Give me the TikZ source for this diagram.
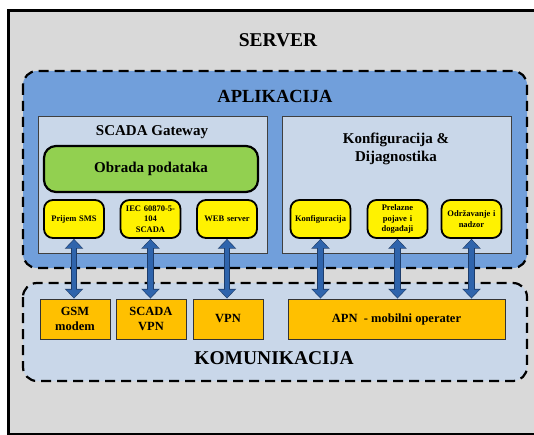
\documentclass[tikz,border=0pt]{standalone}
\usepackage{fontspec}
\setmainfont{Liberation Serif}
\usetikzlibrary{arrows.meta,positioning}

\definecolor{servergrey}{HTML}{D9D9D9}
\definecolor{appblue}{HTML}{719FDB}
\definecolor{panelblue}{HTML}{C9D7E9}
\definecolor{taskgreen}{HTML}{92D050}
\definecolor{linkorange}{HTML}{FFC000}
\definecolor{arrowblue}{HTML}{2F64AC}
\definecolor{arrowdark}{HTML}{1E3D6B}

\newcommand{\fs}[1]{\bfseries\fontsize{#1}{\the\dimexpr #1pt*5/4\relax}\selectfont}

\tikzset{
  layer/.style={draw=black, line width=2.2pt, dash pattern=on 10pt off 6pt, rounded corners=14pt},
  panel/.style={draw=black!75, line width=0.9pt, fill=panelblue},
  task/.style={draw=black, line width=1.8pt, fill=yellow, rounded corners=9pt,
    minimum width=60pt, minimum height=38pt, inner sep=1pt, align=center,
    font=\fs{8.5}, text width=58pt},
  link/.style={draw=black!80, line width=0.9pt, fill=linkorange, minimum height=40pt,
    inner sep=1pt, align=center, font=\fs{12.5}},
  title/.style={font=\fs{#1}, align=center},
  dblarrow/.style={draw=arrowblue, line width=4.6pt,
    {Triangle[width=15pt,length=8pt]}-{Triangle[width=15pt,length=8pt]},
    shorten <=1pt, shorten >=1pt,
    preaction={draw=arrowdark, line width=6.4pt, shorten <=0pt, shorten >=0pt,
      {Triangle[width=18pt,length=9.8pt]}-{Triangle[width=18pt,length=9.8pt]}}}
}

\begin{document}
\begin{tikzpicture}[x=1pt, y=-1pt]
\useasboundingbox (0,0) rectangle (534,435);
\clip (0,0) rectangle (534,435);

% Server frame
\draw[line width=3pt, fill=servergrey] (8,11) rectangle (560,434);
\node[title=19.5] (server) at (278,40) {SERVER};

% Application layer
\draw[layer, fill=appblue] (23,71) rectangle (527,268);
\node[title=18.5] (app) at (275,96) {APLIKACIJA};

% Communication layer
\draw[layer, fill=panelblue] (23,283) rectangle (527,381);
\node[title=19.5] (comm) at (274,358) {KOMUNIKACIJA};

% SCADA gateway panel
\draw[panel] (38,116) rectangle (267,253);
\node[title=15] (gw) at (152,132) {SCADA Gateway};
\node[draw=black, line width=2.2pt, fill=taskgreen, rounded corners=12pt,
  minimum width=214pt, minimum height=46pt, font=\fs{15}] (obrada) at (151,169) {Obrada podataka};
\node[task] (sms) at (74,219) {Prijem SMS};
\node[task] (iec) at (150.5,219) {IEC 60870-5-\\104\\SCADA};
\node[task] (web) at (227,219) {WEB server};

% Configuration panel
\draw[panel] (282,116) rectangle (511,253);
\node[title=15] (cfg) at (396,149) {Konfiguracija \&\\Dijagnostika};
\node[task] (konf) at (320.5,219) {Konfiguracija};
\node[task] (prel) at (397.5,219) {Prelazne\\pojave i\\događaji};
\node[task] (odrz) at (471.5,219) {Održavanje i\\nadzor};

% Communication links
\node[link, minimum width=70pt] (gsm) at (75,319) {GSM\\modem};
\node[link, minimum width=70pt] (svpn) at (151,319) {SCADA\\VPN};
\node[link, minimum width=70pt] (vpn) at (228,319) {VPN};
\node[link, minimum width=217pt] (apn) at (396.5,319) {APN\ \ - mobilni operater};

% Arrows
\draw[dblarrow] (sms.south) -- (sms.south |- gsm.north);
\draw[dblarrow] (iec.south) -- (iec.south |- svpn.north);
\draw[dblarrow] (web.south) -- (web.south |- vpn.north);
\foreach \t in {konf,prel,odrz}
  \draw[dblarrow] (\t.south) -- (\t.south |- apn.north);

\end{tikzpicture}
\end{document}
